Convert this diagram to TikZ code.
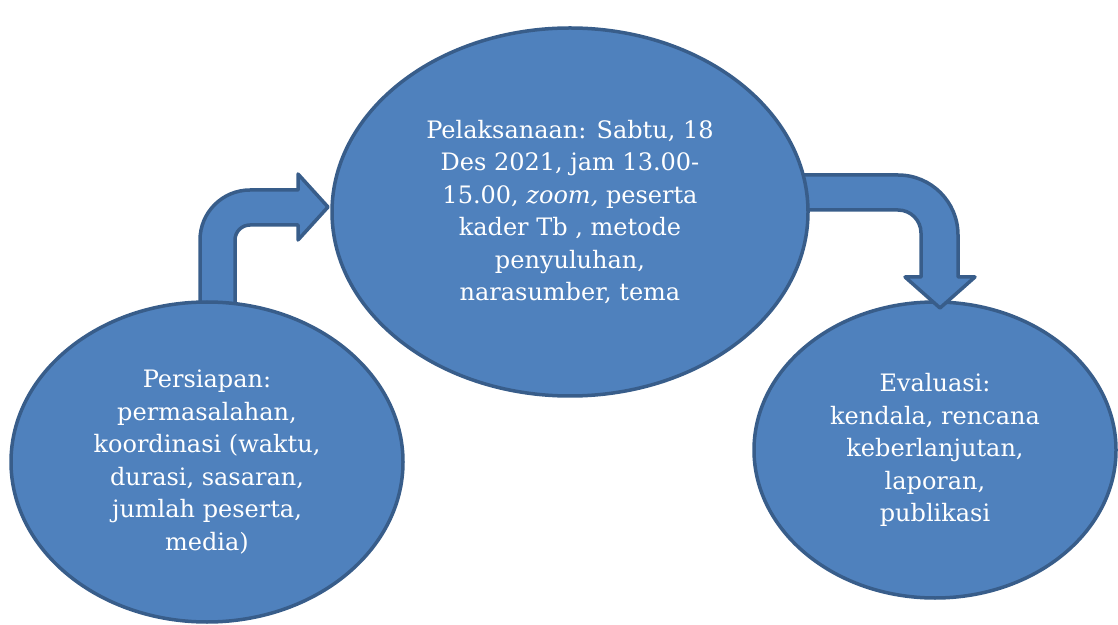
\documentclass[tikz,border=0pt]{standalone}
\usepackage{fontspec}
\setmainfont{DejaVu Serif}
\usetikzlibrary{shapes.geometric}
\definecolor{bubblefill}{HTML}{4F81BD}
\definecolor{bubbleline}{HTML}{385D8A}
\begin{document}
\begin{tikzpicture}[x=1pt,y=1pt,line join=round,
	bubble/.style={ellipse,draw=bubbleline,fill=bubblefill,line width=3.5pt,inner sep=0pt,
		text=white,align=center,font=\fontsize{24}{32.5}\selectfont},
	bentarrow/.style={draw=bubbleline,fill=bubblefill,line width=3.5pt}]
	\useasboundingbox (0,0) rectangle (1118,624);
	% right ellipse first, the arrow tip lies on it
	\node[bubble,minimum width=362,minimum height=296] (evaluasi) at (935,174)
		{Evaluasi:\\kendala, rencana\\keberlanjutan,\\laporan,\\publikasi};
	\draw[bentarrow] (780,449)--(898,449) arc[start angle=90,end angle=0,radius=60]
		--(958,347)--(975,347)--(940,316)--(905,347)--(921,347)--(921,391)
		arc[start angle=0,end angle=90,radius=23]--(780,414)--cycle;
	\node[bubble,minimum width=476,minimum height=368] (pelaksanaan) at (570,412)
		{Pelaksanaan: Sabtu, 18\\Des 2021, jam 13.00-\\15.00, \textit{zoom,} peserta\\kader Tb , metode\\penyuluhan,\\narasumber, tema};
	\draw[bentarrow] (200,294)--(200,384) arc[start angle=180,end angle=90,radius=50]
		--(298,434)--(298,450)--(328,417)--(298,384)--(298,399)--(250,399)
		arc[start angle=90,end angle=180,radius=15]--(235,294)--cycle;
	\node[bubble,minimum width=392,minimum height=320] (persiapan) at (207,162)
		{Persiapan:\\permasalahan,\\koordinasi (waktu,\\durasi, sasaran,\\jumlah peserta,\\media)};
\end{tikzpicture}
\end{document}
